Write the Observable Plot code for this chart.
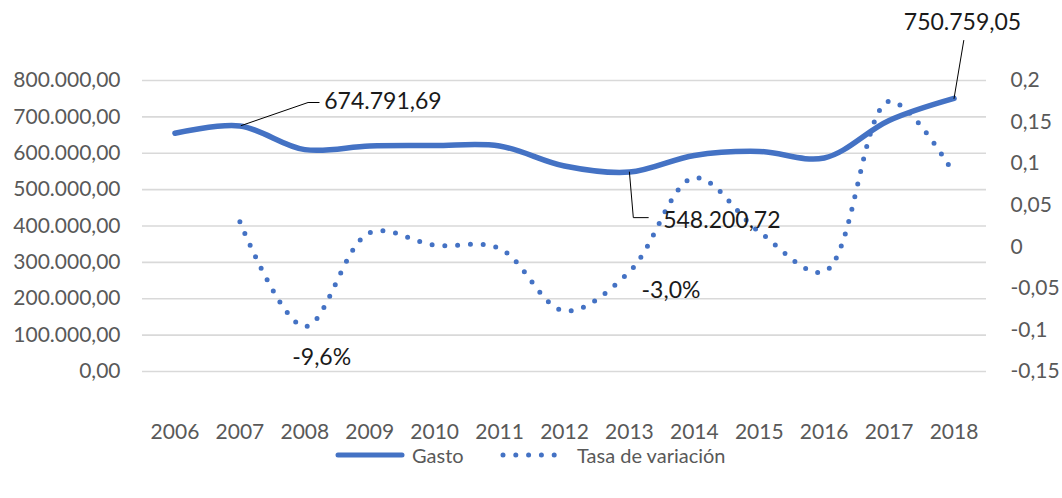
<!DOCTYPE html>
<html><head><meta charset="utf-8">
<script src="https://cdn.jsdelivr.net/npm/d3@7"></script>
<script src="https://cdn.jsdelivr.net/npm/@observablehq/plot@0.6"></script>
<style>
body{margin:0;background:#fff;font-family:Lato,sans-serif}
#legend{position:relative;height:56px;color:#595959;font-size:20px;font-family:Lato,sans-serif}
.item{position:absolute;top:0;display:flex;align-items:center;height:26px}
.item svg{margin-right:6px}
</style>
</head><body>
<div id="chart"></div>
<div id="legend">
  <div class="item" style="left:334px"><svg width="72" height="10"><line x1="4" y1="5" x2="68" y2="5" stroke="#4472C4" stroke-width="5" stroke-linecap="round"/></svg>Gasto</div>
  <div class="item" style="left:499px"><svg width="72" height="10"><line x1="4" y1="5" x2="68" y2="5" stroke="#4472C4" stroke-width="5" stroke-linecap="round" stroke-dasharray="0 12.8"/></svg>Tasa de variación</div>
</div>
<script>
const years = [2006,2007,2008,2009,2010,2011,2012,2013,2014,2015,2016,2017,2018];
const gasto = [655000,674791.69,610000,620000,621000,620000,565000,548200.72,594000,605000,587000,690000,750759.05];
const tasa = [null,0.030,-0.096,0.017,0.002,-0.002,-0.077,-0.030,0.083,0.018,-0.030,0.175,0.088];
const leftTicks = [0,100000,200000,300000,400000,500000,600000,700000,800000];
const rightTicks = [-0.15,-0.1,-0.05,0,0.05,0.1,0.15,0.2];
const rightMin = -0.15, rightMax = 0.2, leftMax = 800000;

// annotations (data coordinates)
const labelsStart = [
  {year:2008.30, value:742000, text:"674.791,69"},
  {year:2013.52, value:415000, text:"548.200,72"}
];
const labelsMiddle = [
  {year:2018.13, value:959000, text:"750.759,05"},
  {year:2008.26, value:38500, text:"-9,6%"},
  {year:2013.64, value:222700, text:"-3,0%"}
];
const leaders = [
  {id:"a", year:2007.02, value:676000},{id:"a", year:2008.05, value:739500},{id:"a", year:2008.22, value:739500},
  {id:"b", year:2018.0, value:750759},{id:"b", year:2018.15, value:910000},
  {id:"c", year:2013.0, value:548200},{id:"c", year:2013.06, value:423000},{id:"c", year:2013.29, value:423000}
];

const toLeft = v => (v - rightMin) / (rightMax - rightMin) * leftMax;
const toRight = d => rightMin + d / leftMax * (rightMax - rightMin);
const loc = d3.formatLocale({decimal:",", thousands:".", grouping:[3], currency:["",""], minus:"-"});
const fmtLeft = loc.format(",.2f");
const fmtRight = d => String(+toRight(d).toFixed(2)).replace(".", ",");

const data = years.map((y,i) => ({year:y, gasto:gasto[i], tasa:tasa[i]}));
const tasaData = data.filter(d => d.tasa != null);

const chart = Plot.plot({
  width:1062, height:442,
  marginTop:80, marginBottom:71, marginLeft:142, marginRight:76,
  style:{fontFamily:"Lato, sans-serif", fontSize:"21px", background:"#fff"},
  x:{domain:[2005.5,2018.5], axis:null},
  y:{domain:[0,leftMax], axis:null},
  marks:[
    Plot.gridY(leftTicks, {stroke:"#d9d9d9", strokeOpacity:1, strokeWidth:1.6}),
    Plot.axisX(years, {anchor:"bottom", tickSize:0, tickPadding:53, tickFormat:d=>String(d), fill:"#595959", label:null}),
    Plot.axisY(leftTicks, {anchor:"left", tickSize:0, tickPadding:22, tickFormat:fmtLeft, fill:"#595959", label:null}),
    Plot.axisY(rightTicks.map(toLeft), {anchor:"right", tickSize:0, tickPadding:24, tickFormat:fmtRight, fill:"#595959", label:null}),
    Plot.line(tasaData, {x:"year", y:d=>toLeft(d.tasa), curve:"catmull-rom", stroke:"#4472C4", strokeWidth:5, strokeLinecap:"round", strokeDasharray:"0 12.8"}),
    Plot.line(data, {x:"year", y:"gasto", curve:"catmull-rom", stroke:"#4472C4", strokeWidth:5.5, strokeLinecap:"round"}),
    Plot.line(leaders, {x:"year", y:"value", z:"id", stroke:"#000", strokeWidth:1}),
    Plot.text(labelsStart, {x:"year", y:"value", text:"text", textAnchor:"start", lineAnchor:"middle", fill:"#1a1a1a", fontSize:23}),
    Plot.text(labelsMiddle, {x:"year", y:"value", text:"text", textAnchor:"middle", lineAnchor:"middle", fill:"#1a1a1a", fontSize:23})
  ]
});
document.getElementById("chart").appendChild(chart);
</script>
</body></html>
